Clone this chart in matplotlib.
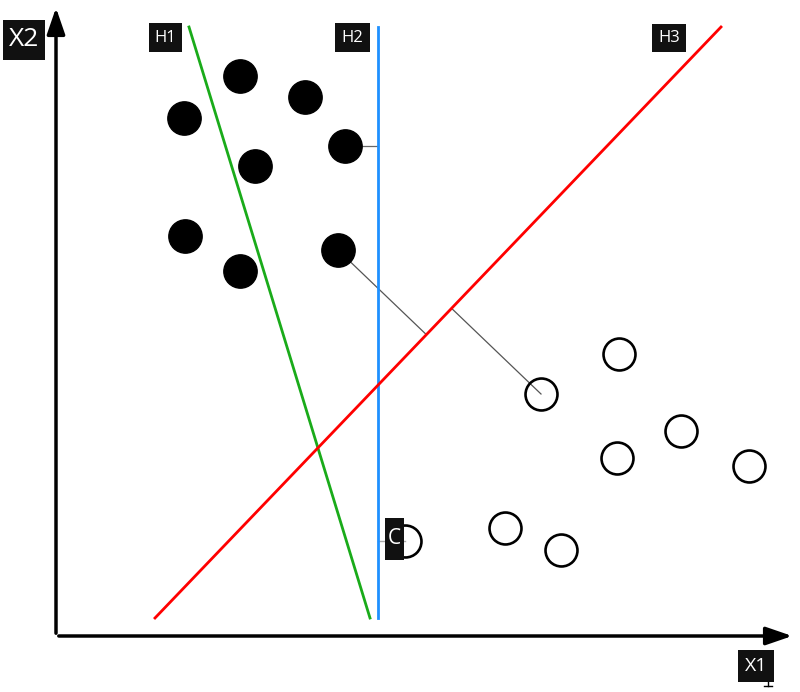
import numpy as np
import matplotlib.pyplot as plt
from matplotlib.patches import Rectangle

# data coordinates: origin at the axes corner, units in pixels
filled_x = [184, 249, 128, 289, 199, 129, 184, 282]
filled_y = [560, 539, 518, 490, 470, 400, 365, 386]
open_x = [563, 485, 625, 561, 693, 449, 505, 349]
open_y = [282, 242, 205, 178, 170, 108, 86, 95]

h1 = ([133, 314], [609, 18])
h2 = ([322, 322], [609, 18])
h3 = ([99, 665], [18, 609])

# label text, box (x0, x1, y0, y1), font size
labels = [
    ('H1', (93, 126, 584, 613), 12),
    ('H2', (279, 314, 584, 613), 12),
    ('H3', (596, 630, 584, 612), 12),
    ('X2', (-53, -11, 576, 616), 19),
    ('X1', (682, 718, -46, -14), 14),
    ('C', (329, 348, 76, 118), 15),
]

plt.rcParams['font.family'] = ['Open Sans', 'DejaVu Sans']

fig = plt.figure(figsize=(8, 6.92), dpi=100)
ax = fig.add_axes([0, 0, 1, 1])
ax.set_xlim(-56, 744)
ax.set_ylim(-56, 636)
ax.axis('off')

# axes arrows
ax.annotate('', xy=(739, 0), xytext=(0, 0),
            arrowprops=dict(arrowstyle='-|>,head_length=1.6,head_width=0.55', color='black', lw=2.5))
ax.annotate('', xy=(0, 631), xytext=(0, 0),
            arrowprops=dict(arrowstyle='-|>,head_length=1.6,head_width=0.55', color='black', lw=2.5))

ax.plot(*h1, color='#1aab1a', lw=2)
ax.plot(*h2, color='#1e90ff', lw=2)
ax.plot(*h3, color='#ff0000', lw=2)


def foot(px, py, line):
    (x0, x1), (y0, y1) = line
    d = np.array([x1 - x0, y1 - y0], dtype=float)
    d /= np.linalg.norm(d)
    t = (px - x0) * d[0] + (py - y0) * d[1]
    return x0 + t * d[0], y0 + t * d[1]


# distances to H3
for px, py in [(filled_x[7], filled_y[7]), (open_x[1], open_y[1])]:
    fx, fy = foot(px, py, h3)
    ax.plot([px, fx], [py, fy], color='#555555', lw=0.9, zorder=1)

# distances to H2
ax.plot([filled_x[3], h2[0][0]], [filled_y[3], filled_y[3]], color='#666666', lw=0.9, zorder=1)
ax.plot([h2[0][0], open_x[7]], [open_y[7], open_y[7]], color='#aaaaaa', lw=1, zorder=1)

ax.plot(filled_x, filled_y, 'o', color='black', ms=24, zorder=3)
ax.plot(open_x, open_y, 'o', mfc='none', mec='black', mew=1.9, ms=23, zorder=3)

for txt, (x0, x1, y0, y1), fs in labels:
    ax.add_patch(Rectangle((x0, y0), x1 - x0, y1 - y0, fc='#111111', ec='none', zorder=4))
    ax.text((x0 + x1) / 2, (y0 + y1) / 2, txt, color='white', fontsize=fs,
            ha='center', va='center', zorder=5)

ax.plot([712, 712], [-36, -50], color='black', lw=1)
ax.plot([708, 716], [-50, -50], color='black', lw=1)

fig.savefig('out.png', dpi=100)
